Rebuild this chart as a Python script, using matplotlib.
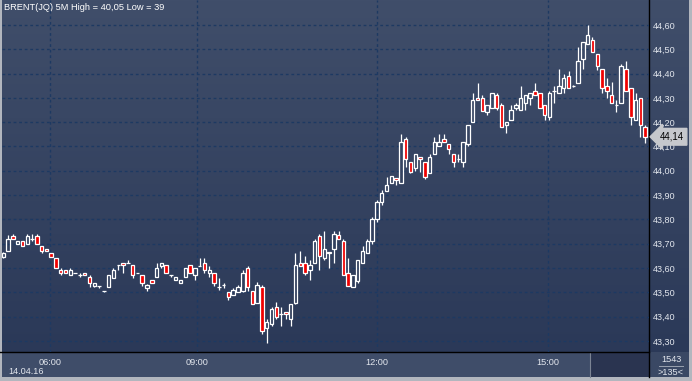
import matplotlib
matplotlib.use("Agg")
import numpy as np
import matplotlib.pyplot as plt
from matplotlib.colors import LinearSegmentedColormap
from matplotlib.patches import Rectangle
import matplotlib.transforms as mtransforms

# 5M candles, BRENT(JQ), 14.04.16
open_ = [43.645, 43.67, 43.73, 43.70, 43.71, 43.70, 43.72, 43.73, 43.69, 43.68,
         43.66, 43.64, 43.59, 43.59, 43.57, 43.58, 43.572, 43.578, 43.562, 43.527,
         43.527, 43.507, 43.52, 43.56, 43.612, 43.62, 43.62, 43.612, 43.578, 43.57,
         43.519, 43.55, 43.562, 43.61, 43.611, 43.57, 43.55, 43.54, 43.562, 43.611,
         43.57, 43.61, 43.62, 43.578, 43.578, 43.52, 43.53, 43.50, 43.49, 43.50,
         43.507, 43.60, 43.507, 43.457, 43.52, 43.352, 43.37, 43.438, 43.41, 43.42,
         43.39, 43.457, 43.62, 43.62, 43.59, 43.62, 43.73, 43.64, 43.667, 43.68,
         43.735, 43.71, 43.578, 43.52, 43.548, 43.62, 43.66, 43.71, 43.80, 43.87,
         43.918, 43.95, 43.97, 43.95, 44.13, 44.037, 44.01, 44.058, 44.037, 43.99,
         44.068, 44.10, 44.13, 44.11, 44.068, 44.049, 44.037, 44.11, 44.20, 44.298,
         44.298, 44.24, 44.257, 44.31, 44.27, 44.187, 44.21, 44.257, 44.25, 44.278,
         44.298, 44.33, 44.32, 44.27, 44.22, 44.33, 44.32, 44.34, 44.39, 44.35,
         44.36, 44.46, 44.52, 44.54, 44.48, 44.42, 44.348, 44.31, 44.27, 44.278,
         44.42, 44.34, 44.21, 44.30, 44.18]
high = [43.665, 43.735, 43.74, 43.71, 43.71, 43.74, 43.74, 43.74, 43.69, 43.68,
        43.66, 43.64, 43.60, 43.59, 43.60, 43.58, 43.58, 43.578, 43.57, 43.54,
        43.527, 43.507, 43.57, 43.60, 43.612, 43.62, 43.633, 43.612, 43.578, 43.57,
        43.535, 43.55, 43.62, 43.62, 43.611, 43.57, 43.562, 43.55, 43.60, 43.611,
        43.60, 43.64, 43.64, 43.61, 43.578, 43.56, 43.54, 43.50, 43.519, 43.53,
        43.59, 43.61, 43.507, 43.544, 43.53, 43.39, 43.44, 43.459, 43.44, 43.42,
        43.452, 43.66, 43.67, 43.65, 43.633, 43.72, 43.74, 43.752, 43.667, 43.752,
        43.752, 43.72, 43.64, 43.57, 43.633, 43.69, 43.72, 43.81, 43.88, 43.92,
        43.973, 43.98, 43.97, 44.151, 44.14, 44.037, 44.068, 44.058, 44.037, 44.068,
        44.14, 44.151, 44.151, 44.11, 44.068, 44.068, 44.12, 44.19, 44.32, 44.363,
        44.31, 44.27, 44.32, 44.32, 44.28, 44.20, 44.27, 44.28, 44.35, 44.31,
        44.32, 44.36, 44.32, 44.27, 44.33, 44.35, 44.42, 44.40, 44.41, 44.355,
        44.51, 44.53, 44.60, 44.55, 44.48, 44.42, 44.38, 44.367, 44.29, 44.44,
        44.45, 44.34, 44.32, 44.30, 44.19]
low = [43.64, 43.67, 43.72, 43.70, 43.69, 43.70, 43.71, 43.70, 43.66, 43.67,
       43.645, 43.60, 43.57, 43.58, 43.57, 43.58, 43.562, 43.57, 43.52, 43.52,
       43.517, 43.50, 43.52, 43.56, 43.59, 43.578, 43.62, 43.56, 43.578, 43.527,
       43.507, 43.54, 43.562, 43.60, 43.578, 43.562, 43.55, 43.54, 43.562, 43.58,
       43.55, 43.61, 43.578, 43.562, 43.527, 43.51, 43.519, 43.47, 43.49, 43.50,
       43.50, 43.507, 43.452, 43.457, 43.33, 43.29, 43.36, 43.39, 43.36, 43.39,
       43.36, 43.45, 43.61, 43.57, 43.55, 43.62, 43.59, 43.633, 43.60, 43.62,
       43.72, 43.57, 43.527, 43.52, 43.54, 43.62, 43.66, 43.70, 43.79, 43.86,
       43.918, 43.95, 43.94, 43.95, 44.017, 43.99, 44.00, 43.996, 43.966, 43.99,
       44.068, 44.10, 44.12, 44.068, 44.017, 44.037, 44.017, 44.10, 44.20, 44.29,
       44.247, 44.23, 44.257, 44.25, 44.18, 44.157, 44.21, 44.25, 44.25, 44.25,
       44.27, 44.31, 44.257, 44.21, 44.21, 44.278, 44.32, 44.32, 44.34, 44.345,
       44.36, 44.42, 44.52, 44.49, 44.415, 44.32, 44.298, 44.278, 44.24, 44.278,
       44.33, 44.19, 44.21, 44.14, 44.113]
close = [43.66, 43.72, 43.72, 43.71, 43.69, 43.73, 43.72, 43.70, 43.668, 43.67,
         43.645, 43.60, 43.58, 43.58, 43.59, 43.58, 43.572, 43.57, 43.54, 43.54,
         43.527, 43.507, 43.57, 43.59, 43.612, 43.612, 43.62, 43.57, 43.578, 43.54,
         43.53, 43.54, 43.60, 43.62, 43.578, 43.57, 43.562, 43.55, 43.60, 43.58,
         43.60, 43.61, 43.59, 43.59, 43.54, 43.52, 43.53, 43.48, 43.51, 43.52,
         43.578, 43.52, 43.452, 43.53, 43.34, 43.379, 43.43, 43.40, 43.41, 43.41,
         43.452, 43.612, 43.61, 43.578, 43.612, 43.71, 43.65, 43.68, 43.66, 43.74,
         43.72, 43.57, 43.527, 43.57, 43.633, 43.67, 43.71, 43.80, 43.87, 43.91,
         43.94, 43.98, 43.962, 44.12, 44.05, 43.996, 44.068, 44.047, 43.976, 44.058,
         44.12, 44.12, 44.12, 44.088, 44.037, 44.049, 44.12, 44.19, 44.29, 44.29,
         44.247, 44.27, 44.32, 44.257, 44.18, 44.20, 44.25, 44.27, 44.30, 44.31,
         44.32, 44.31, 44.257, 44.23, 44.32, 44.33, 44.35, 44.38, 44.34, 44.35,
         44.45, 44.53, 44.56, 44.49, 44.43, 44.34, 44.33, 44.278, 44.27, 44.43,
         44.33, 44.22, 44.29, 44.19, 44.14]

time_labels = ["06:00", "09:00", "12:00", "15:00"]
time_pos = [9.81, 40.44, 77.95, 113.7]
price_ticks = [43.30, 43.40, 43.50, 43.60, 43.70, 43.80, 43.90,
               44.00, 44.10, 44.20, 44.30, 44.40, 44.50, 44.60]
last_price = 44.14

W, H = 692, 381
BG_TOP = "#404e6a"
BG_BOT = "#2b3958"
GRID = "#1d3962"
TXT = "#e2e6ed"
RED = "#f00000"
FONT = "Liberation Sans"
FS = 6.6


def box(x0, y0, x1, y1):
    # pixel box (y from top) -> figure fraction rect
    return [x0 / W, 1 - y1 / H, (x1 - x0) / W, (y1 - y0) / H]


fig = plt.figure(figsize=(W / 100, H / 100), dpi=100)
fig.patch.set_facecolor("#b2b6be")

# background layer in pixel coords
bg = fig.add_axes([0, 0, 1, 1], zorder=0)
bg.set_xlim(0, W)
bg.set_ylim(H, 0)
bg.axis("off")
cmap = LinearSegmentedColormap.from_list("bg", [BG_TOP, BG_BOT])
grad = np.linspace(0, 1, 256).reshape(-1, 1)
bg.imshow(grad, cmap=cmap, aspect="auto", extent=(2, 689, 352, 0), zorder=0)
bg.add_patch(Rectangle((2, 352), 647, 25, fc="#3f4d69", ec="none", zorder=1))
bg.add_patch(Rectangle((590, 353), 59, 24, fc="#2a3450", ec="none", zorder=2))
bg.add_patch(Rectangle((649, 352), 40, 25, fc="#3a4864", ec="none", zorder=1))
bg.plot([589.5, 589.5], [353, 377], color="#7c8494", lw=0.8, zorder=3)
bg.plot([0, 649], [352, 352], color="black", lw=1.0, zorder=4)
bg.plot([649, 649], [0, 377], color="black", lw=1.0, zorder=4)
bg.plot([659, 683], [366, 366], color="#9aa2b0", lw=0.7, zorder=4)
bg.text(4, 8, "BRENT(JQ) 5M High = 40,05 Low = 39", color="white",
        fontsize=6.7, family=FONT, va="center", ha="left")
bg.text(8, 371, "14.04.16", color=TXT, fontsize=FS, family=FONT,
        va="center", ha="left")
bg.text(671, 359.5, "1543", color=TXT, fontsize=FS, family=FONT,
        va="center", ha="center")
bg.text(670, 372.5, ">135<", color=TXT, fontsize=FS, family=FONT,
        va="center", ha="center")

# chart
ax = fig.add_axes(box(2, 0, 649, 352), zorder=1)
ax.patch.set_alpha(0)
for s in ax.spines.values():
    s.set_visible(False)

x = np.arange(len(close))
o = np.array(open_)
c = np.array(close)
hi = np.array(high)
lo = np.array(low)
top = np.maximum(o, c)
bot = np.minimum(o, c)
up = c >= o
width = 0.72

ax.vlines(x, top, hi, color="white", lw=0.9, zorder=3)
ax.vlines(x, lo, bot, color="white", lw=0.9, zorder=3)
doji = np.isclose(o, c)
body = ~doji
ax.bar(x[body], (top - bot)[body], bottom=bot[body], width=width,
       color=np.where(up[body], "none", RED), edgecolor="white",
       linewidth=0.9, zorder=4)
ax.hlines(c[doji], x[doji] - width / 2, x[doji] + width / 2,
          color="white", lw=0.9, zorder=4)

ax.set_xlim(-0.27, 134.8)
ax.set_ylim(43.254, 44.703)
ax.set_xticks(time_pos)
ax.set_xticklabels(time_labels)
ax.set_yticks(price_ticks)
ax.set_yticklabels([f"{p:.2f}".replace(".", ",") for p in price_ticks])
ax.yaxis.tick_right()
ax.tick_params(axis="both", length=0, colors=TXT, labelsize=FS)
ax.tick_params(axis="y", pad=3)
ax.tick_params(axis="x", pad=4)
for lab in ax.get_xticklabels() + ax.get_yticklabels():
    lab.set_family(FONT)
ax.grid(True, color=GRID, linestyle=(0, (2, 2)), lw=1.0, zorder=1)
ax.set_axisbelow(True)

# last price tag
trans = mtransforms.blended_transform_factory(ax.transAxes, ax.transData)
ax.text(1.016, last_price, "44,14", transform=trans, color="black",
        fontsize=FS + 0.3, family=FONT, va="center", ha="left", zorder=6,
        bbox=dict(boxstyle="larrow,pad=0.35", fc="#c6c8cc", ec="#c6c8cc"),
        clip_on=False)

fig.savefig("out.png", dpi=100, facecolor=fig.get_facecolor())
